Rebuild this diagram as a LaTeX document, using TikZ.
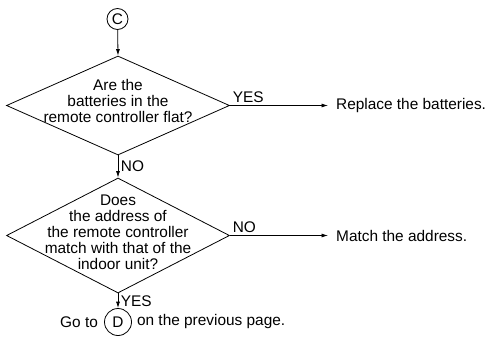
\documentclass[tikz,border=0pt]{standalone}
\usepackage{fontspec}
\setmainfont{Liberation Sans}
\usetikzlibrary{arrows.meta,positioning,shapes.geometric}

\begin{document}
\begin{tikzpicture}[
  x=1pt,y=-1pt,
  txt/.style={font=\fontsize{15.4}{16}\selectfont,inner sep=0pt},
  connector/.style={circle,draw,line width=0.8pt,minimum size=21pt,
                    inner sep=0pt,txt},
  decision/.style={diamond,draw,line width=0.8pt,minimum width=223pt,
                   minimum height=99pt,inner sep=0pt},
  question/.style={txt,align=center},
  flow/.style={-{Latex[length=6.5pt,width=4pt]},line width=0.8pt},
  tag/.style={txt,inner sep=2.5pt}
]
\useasboundingbox (0,0) rectangle (492,337);

\node[connector] (cC) at (117.5,19) {C};

\node[decision] (q1) at (118,105.5) {};
\node[question] (q1t) at (118,101)
  {Are the\\batteries in the\\remote controller flat?};

\node[decision,minimum height=115pt] (q2) at (118,235.5) {};
\node[question] (q2t) at (118,232)
  {Does\\the address of\\the remote controller\\match with that of the\\indoor unit?};

\node[txt,anchor=west] (r1) at (336,105.5) {Replace the batteries.};
\node[txt,anchor=west] (r2) at (336,235.5) {Match the address.};

\node[connector,minimum size=27pt] (cD) at (118,322) {D};
\node[txt,left=6pt of cD]  (goto) {Go to};
\node[txt,right=5pt of cD] (prev) {on the previous page.};

\draw[flow] (cC) -- (q1.north);
\draw[flow,shorten >=8pt] (q1.east)
  -- node[tag,anchor=south west,pos=0] {YES} (r1.west);
\draw[flow] (q1.south) -- node[tag,anchor=west] {NO} (q2.north);
\draw[flow,shorten >=8pt] (q2.east)
  -- node[tag,anchor=south west,pos=0] {NO} (r2.west);
\draw[flow] (q2.south) -- node[tag,anchor=west] {YES} (cD);
\end{tikzpicture}
\end{document}
